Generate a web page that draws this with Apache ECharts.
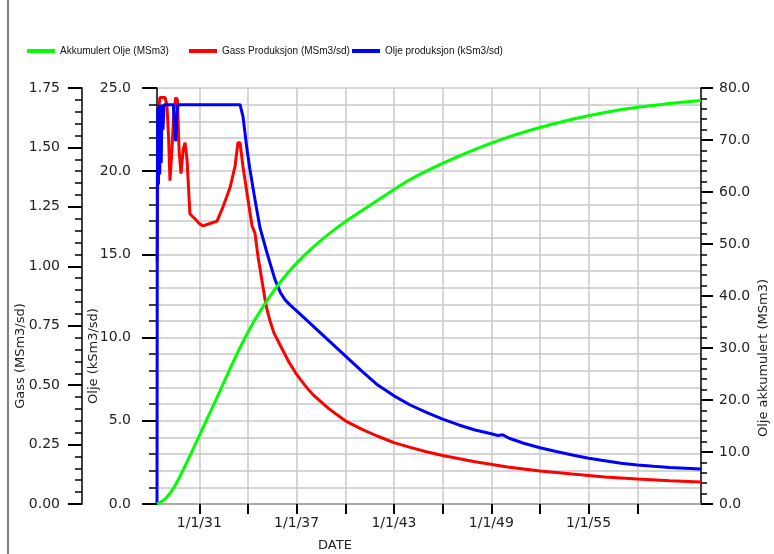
<!DOCTYPE html>
<html>
<head>
<meta charset="utf-8">
<script src="https://cdn.jsdelivr.net/npm/echarts@6/dist/echarts.min.js"></script>
<style>
html,body{margin:0;padding:0;background:#fff;}
#chart{width:774px;height:554px;}
</style>
</head>
<body>
<div id="chart"></div>
<script>
// ---- data (dates as fractional years) ----
const xTickYears = [1931, 1934, 1937, 1940, 1943, 1946, 1949, 1952, 1955, 1958];
const xLabelYears = [1931, 1937, 1943, 1949, 1955];

const oljeDates = [1928.39, 1928.41, 1928.44, 1928.48, 1928.52, 1928.56, 1928.60, 1928.65, 1928.70, 1928.76, 1928.82, 1929.0, 1929.4, 1929.47, 1929.55, 1929.62, 1929.68, 1933.51, 1933.69, 1933.94, 1934.12, 1934.43, 1934.74, 1935.17, 1935.66, 1936.0, 1936.3, 1936.6, 1937.0, 1937.5, 1938, 1939, 1940, 1941, 1942, 1943, 1944, 1945, 1946, 1947, 1948, 1949.0, 1949.4, 1949.7, 1950.1, 1951, 1952, 1953, 1954, 1955, 1956, 1957, 1958, 1959, 1960, 1961.93];
const oljeValues = [0, 19.0, 23.8, 19.2, 24.0, 19.8, 24.0, 20.5, 24.0, 22.5, 24.0, 24.0, 24.0, 22.5, 21.8, 23.5, 24.0, 24.0, 23.3, 21.3, 20.1, 18.3, 16.6, 15.1, 13.5, 12.7, 12.25, 11.95, 11.6, 11.15, 10.7, 9.8, 8.9, 8.0, 7.15, 6.5, 5.95, 5.5, 5.1, 4.75, 4.45, 4.22, 4.12, 4.16, 3.95, 3.65, 3.38, 3.15, 2.95, 2.75, 2.6, 2.45, 2.35, 2.27, 2.2, 2.1];

const gassDates = [1928.40, 1928.45, 1928.52, 1928.57, 1928.88, 1929.0, 1929.1, 1929.19, 1929.31, 1929.44, 1929.55, 1929.65, 1929.75, 1929.87, 1930.0, 1930.12, 1930.24, 1930.42, 1930.73, 1931.0, 1931.23, 1931.66, 1932.09, 1932.46, 1932.89, 1933.20, 1933.38, 1933.51, 1933.69, 1934.0, 1934.25, 1934.43, 1934.62, 1934.86, 1935.05, 1935.2, 1935.36, 1935.6, 1935.97, 1936.5, 1937.0, 1937.5, 1938, 1939, 1940, 1941, 1942, 1943, 1944, 1945, 1946, 1948, 1950, 1952, 1954, 1956, 1958, 1960, 1961.93];
const gassValues = [1.02, 1.53, 1.68, 1.71, 1.71, 1.68, 1.55, 1.36, 1.49, 1.66, 1.71, 1.70, 1.49, 1.39, 1.49, 1.52, 1.45, 1.22, 1.20, 1.18, 1.17, 1.18, 1.19, 1.25, 1.33, 1.42, 1.52, 1.52, 1.42, 1.28, 1.17, 1.14, 1.04, 0.94, 0.86, 0.81, 0.77, 0.72, 0.67, 0.60, 0.545, 0.50, 0.46, 0.40, 0.35, 0.315, 0.285, 0.258, 0.238, 0.22, 0.204, 0.178, 0.156, 0.139, 0.126, 0.114, 0.105, 0.098, 0.093];

const accDates = [1928.39, 1928.9, 1929.5, 1930.5, 1931.5, 1932.5, 1933.5, 1934.5, 1935.5, 1936.5, 1937.5, 1938.5, 1940, 1942, 1944, 1946, 1948, 1950, 1952, 1954, 1956, 1958, 1960, 1961.93];
const accValues = [0, 1.0, 3.5, 9.8, 16.5, 23.3, 30.0, 35.8, 40.6, 44.6, 47.9, 50.7, 54.3, 58.4, 62.4, 65.5, 68.2, 70.5, 72.4, 74.0, 75.3, 76.3, 77.0, 77.6];

const pair = (xs, ys) => xs.map((x, i) => [x, ys[i]]);

const tickFont = {fontFamily: 'DejaVu Sans', fontSize: 14, color: '#222'};
const nameFont = {fontFamily: 'DejaVu Sans', fontSize: 13, color: '#222'};
const legendFont = {fontFamily: 'Liberation Sans', fontSize: 10, color: '#111'};
const grid = '#c8c8c8';

const chart = echarts.init(document.getElementById('chart'), null, {renderer: 'canvas'});
chart.setOption({
  animation: false,
  backgroundColor: '#fff',
  graphic: [
    {type: 'line', shape: {x1: 8, y1: 0, x2: 8, y2: 554}, style: {stroke: '#555', lineWidth: 1.5}}
  ],
  legend: [
    {left: 22, top: 41, itemWidth: 28, itemHeight: 4, itemGap: 0, icon: 'rect', data: ['Akkumulert Olje (MSm3)'], textStyle: legendFont},
    {left: 184, top: 41, itemWidth: 28, itemHeight: 4, itemGap: 0, icon: 'rect', data: ['Gass Produksjon (MSm3/sd)'], textStyle: legendFont},
    {left: 347, top: 41, itemWidth: 28, itemHeight: 4, itemGap: 0, icon: 'rect', data: ['Olje produksjon (kSm3/sd)'], textStyle: legendFont}
  ],
  grid: {left: 157, right: 73, top: 88, bottom: 50, containLabel: false, outerBoundsMode: 'none'},
  xAxis: {
    type: 'value', min: 1928.39, max: 1961.93,
    axisLine: {show: true, lineStyle: {color: '#999', width: 1.5}},
    axisTick: {show: true, customValues: xTickYears, length: 10, lineStyle: {color: '#000', width: 2}},
    axisLabel: {customValues: xLabelYears, margin: 12, ...tickFont,
      formatter: v => '1/1/' + String(Math.round(v) % 100).padStart(2, '0')},
    splitLine: {show: true, lineStyle: {color: grid, width: 1.5}},
    name: 'DATE', nameLocation: 'middle', nameGap: 35, nameMoveOverlap: false,
    nameTextStyle: {...nameFont, padding: [0, 188, 0, 0]}
  },
  yAxis: [
    {
      type: 'value', position: 'left', min: 0, max: 25, interval: 5,
      axisLine: {show: true, lineStyle: {color: '#000', width: 1.5}},
      axisTick: {show: true, length: 15, lineStyle: {color: '#000', width: 2}},
      minorTick: {show: true, splitNumber: 5, length: 8, lineStyle: {color: '#000', width: 1.5}},
      splitLine: {show: true, lineStyle: {color: grid, width: 1.5}},
      minorSplitLine: {show: true, lineStyle: {color: grid, width: 1.5}},
      axisLabel: {margin: 26, formatter: v => v.toFixed(1), ...tickFont},
      name: 'Olje (kSm3/sd)', nameLocation: 'middle', nameGap: 57, nameRotate: 90, nameMoveOverlap: false,
      nameTextStyle: {...nameFont, padding: [0, 120, 0, 0]}
    },
    {
      type: 'value', position: 'left', offset: 75, min: 0, max: 1.75, interval: 0.25,
      axisLine: {show: true, lineStyle: {color: '#000', width: 1.5}},
      axisTick: {show: true, length: 14, lineStyle: {color: '#000', width: 2}},
      minorTick: {show: true, splitNumber: 5, length: 7, lineStyle: {color: '#000', width: 1.5}},
      splitLine: {show: false},
      axisLabel: {margin: 22, formatter: v => v.toFixed(2), ...tickFont},
      name: 'Gass (MSm3/sd)', nameLocation: 'middle', nameGap: 55, nameRotate: 90, nameMoveOverlap: false,
      nameTextStyle: {...nameFont, padding: [0, 120, 0, 0]}
    },
    {
      type: 'value', position: 'right', min: 0, max: 80, interval: 10,
      axisLine: {show: true, lineStyle: {color: '#000', width: 1.5}},
      axisTick: {show: true, length: 12, lineStyle: {color: '#000', width: 2}},
      minorTick: {show: true, splitNumber: 5, length: 6, lineStyle: {color: '#000', width: 1.5}},
      splitLine: {show: false},
      axisLabel: {margin: 18, formatter: v => v.toFixed(1), ...tickFont},
      name: 'Olje akkumulert (MSm3)', nameLocation: 'middle', nameGap: 56, nameRotate: 90, nameMoveOverlap: false,
      nameTextStyle: {...nameFont, padding: [0, 124, 0, 0]}
    }
  ],
  series: [
    {
      name: 'Gass Produksjon (MSm3/sd)', type: 'line', yAxisIndex: 1, z: 2,
      data: pair(gassDates, gassValues), showSymbol: false, symbol: 'none',
      lineStyle: {color: '#ff0000', width: 3}, itemStyle: {color: '#ff0000'}
    },
    {
      name: 'Olje produksjon (kSm3/sd)', type: 'line', yAxisIndex: 0, z: 3,
      data: pair(oljeDates, oljeValues), showSymbol: false, symbol: 'none',
      lineStyle: {color: '#0000ff', width: 3}, itemStyle: {color: '#0000ff'}
    },
    {
      name: 'Akkumulert Olje (MSm3)', type: 'line', yAxisIndex: 2, z: 4,
      data: pair(accDates, accValues), showSymbol: false, symbol: 'none',
      smooth: 0.35,
      lineStyle: {color: '#00ff00', width: 3}, itemStyle: {color: '#00ff00'}
    }
  ]
});
</script>
</body>
</html>
